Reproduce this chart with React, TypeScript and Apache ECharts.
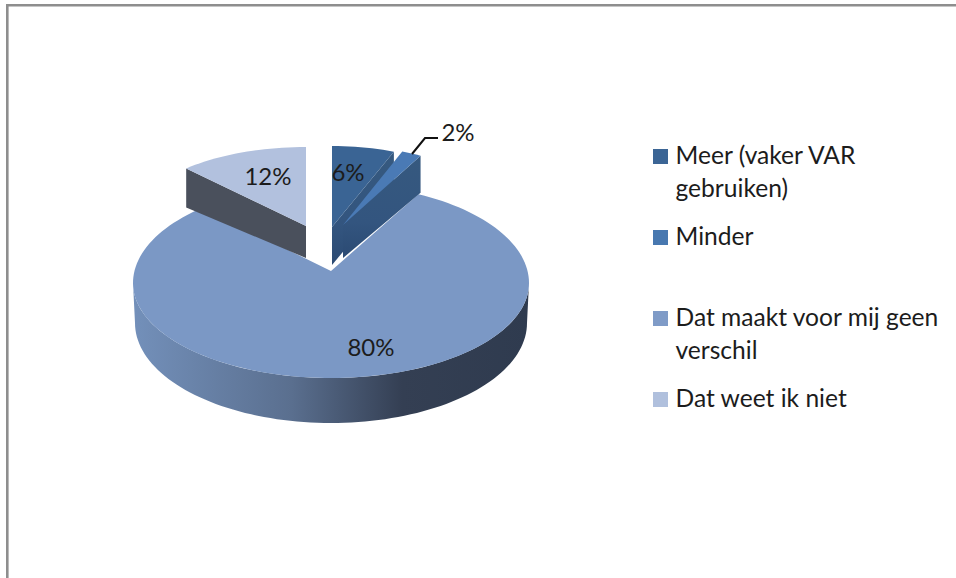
import React, { useEffect, useRef } from "react";
import * as echarts from "echarts";

const categories = ["Meer (vaker VAR\ngebruiken)", "Minder", "Dat maakt voor mij geen\nverschil", "Dat weet ik niet"];
const values = [6, 2, 80, 12];

const FONT = "Lato, Carlito, sans-serif";
const TEXT_COLOR = "#1c1c1c";
const legendColors = ["#3b6595", "#4878b0", "#7f9bc7", "#b0c0dd"];
const legendTops = [149, 230, 311, 392];

// Projection of each exploded slice: apex, radii, wall depth, colours.
const sliceLayout = [
  { ax: 332, ay: 227, rx: 168, ry: 81, dNear: 38, dFar: 39, top: "#3a6494", z: 3, lx: 348, ly: 171 },
  { ax: 343, ay: 225, rx: 161, ry: 79, dNear: 33, dFar: 37, top: "#4a7ab5", z: 4, lx: 458, ly: 131 },
  { ax: 331, ay: 271, rx: 198, ry: 99, dNear: 0, dFar: 0, top: "#7b98c5", z: 1, lx: 371, ly: 346 },
  { ax: 306, ay: 226, rx: 175, ry: 79, dNear: 32, dFar: 39, top: "#b2c1de", z: 2, lx: 268, ly: 175 },
];
const MAIN = { cx: 331, cy: 283, ryFront: 95, botCy: 323, botRx: 196, botRy: 100, pad: 2.6 };
const RAD = Math.PI / 180;

function buildSlice(index: number, value: number, data: number[]) {
  const total = data.reduce((a, b) => a + b, 0);
  const before = data.slice(0, index).reduce((a, b) => a + b, 0);
  let a0 = (before / total) * 360;
  let a1 = ((before + value) / total) * 360;
  const g = sliceLayout[index];
  const children: any[] = [];
  const isMain = g.dFar === 0;
  const pt = (deg: number) => {
    const s = Math.sin(deg * RAD);
    const c = Math.cos(deg * RAD);
    if (isMain) return [MAIN.cx + g.rx * s, MAIN.cy - (c > 0 ? g.ry : MAIN.ryFront) * c];
    return [g.ax + g.rx * s, g.ay - g.ry * c];
  };
  if (isMain) {
    a0 -= MAIN.pad;
    a1 += MAIN.pad;
    // front rim, from the right extreme round to the left extreme
    const rim: number[][] = [];
    for (let d = 90; d <= 270; d += 2) rim.push(pt(d));
    for (let d = 270; d >= 90; d -= 2) {
      const s = Math.sin(d * RAD);
      const c = Math.cos(d * RAD);
      rim.push([MAIN.cx + MAIN.botRx * s, MAIN.botCy - MAIN.botRy * c]);
    }
    children.push({
      type: "polygon",
      z2: g.z,
      shape: { points: rim },
      style: {
        fill: new echarts.graphic.LinearGradient(0, 0, 1, 0, [
          { offset: 0, color: "#7390ba" },
          { offset: 0.4, color: "#5a6f8f" },
          { offset: 0.68, color: "#343f53" },
          { offset: 1, color: "#2f3b4f" },
        ]),
      },
    });
  } else {
    // cut wall that faces the viewer
    const wallAngle = index === 3 ? a0 : a1;
    const far = pt(wallAngle);
    const wallFill =
      index === 3
        ? "#4a505c"
        : new echarts.graphic.LinearGradient(0, 0, 0, 1, [
            { offset: 0, color: "#36597f" },
            { offset: 0.65, color: "#33557f" },
            { offset: 1, color: "#2b4a73" },
          ]);
    children.push({
      type: "polygon",
      z2: g.z,
      shape: {
        points: [
          [g.ax, g.ay],
          far,
          [far[0], far[1] + g.dFar],
          [g.ax, g.ay + g.dNear],
        ],
      },
      style: { fill: wallFill },
    });
  }
  const face: number[][] = [[g.ax, g.ay]];
  const steps = Math.max(4, Math.ceil((a1 - a0) / 2));
  for (let i = 0; i <= steps; i++) face.push(pt(a0 + ((a1 - a0) * i) / steps));
  children.push({ type: "polygon", z2: g.z + 0.5, shape: { points: face }, style: { fill: g.top } });
  children.push({
    type: "text",
    z2: 20,
    style: {
      text: value + "%",
      x: g.lx,
      y: g.ly,
      align: "center",
      verticalAlign: "middle",
      font: `24px ${FONT}`,
      fill: TEXT_COLOR,
    },
  });
  return { type: "group", children };
}

export default function App() {
  const ref = useRef<HTMLDivElement>(null);
  useEffect(() => {
    if (!ref.current) return;
    const chart = echarts.init(ref.current, undefined, { renderer: "svg" });
    const legendGraphics: any[] = [];
    categories.forEach((name, i) => {
      legendGraphics.push({
        type: "rect",
        shape: { x: 653, y: legendTops[i], width: 15, height: 15 },
        style: { fill: legendColors[i] },
      });
      legendGraphics.push({
        type: "text",
        x: 675.5,
        y: legendTops[i] - 10.5,
        style: { text: name, font: `24.6px ${FONT}`, lineHeight: 32.5, fill: TEXT_COLOR },
      });
    });
    chart.setOption({
      animation: false,
      backgroundColor: "#ffffff",
      graphic: [
        { type: "rect", shape: { x: 6, y: 4, width: 950, height: 2.4 }, style: { fill: "#8e8e8e" } },
        { type: "rect", shape: { x: 6, y: 4, width: 2.6, height: 574 }, style: { fill: "#8e8e8e" } },
        {
          type: "polyline",
          z: 10,
          shape: { points: [[412, 154], [425, 138], [438, 138]] },
          style: { stroke: "#111111", lineWidth: 2, fill: "none" },
        },
        ...legendGraphics,
      ],
      series: [
        {
          type: "custom",
          coordinateSystem: "none",
          silent: true,
          data: values.map((v, i) => ({ name: categories[i], value: v })),
          renderItem: (params: any, api: any) => buildSlice(params.dataIndex, api.value(0), values),
        },
      ],
    });
    return () => chart.dispose();
  }, []);
  return <div ref={ref} style={{ position: "absolute", left: 0, top: 0, width: 956, height: 578 }} />;
}
